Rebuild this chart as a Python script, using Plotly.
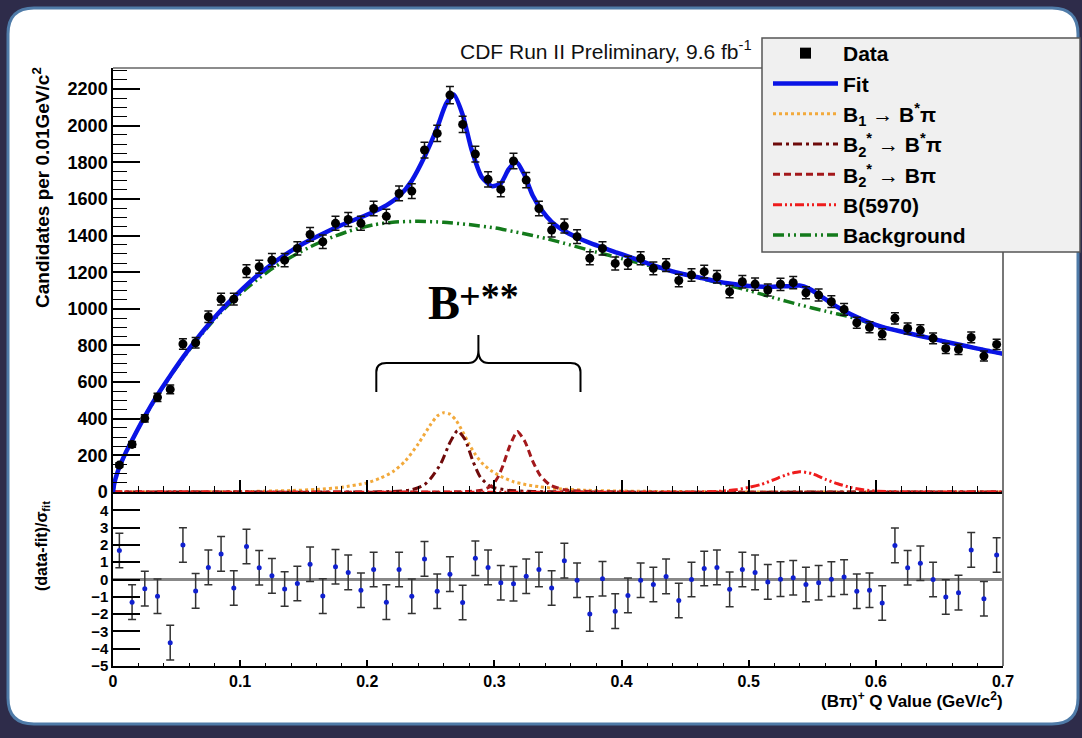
import numpy as np
import plotly.graph_objects as go

# ---------------- data ----------------
bin_width = 0.01
counts = [147, 260, 402, 517, 560, 808, 815, 957, 1053, 1053,
          1206, 1230, 1266, 1266, 1330, 1406, 1366, 1467, 1488, 1467,
          1548, 1505, 1630, 1643, 1867, 1958, 2167, 2007, 1845, 1707,
          1652, 1807, 1703, 1548, 1430, 1452, 1394, 1276, 1330, 1248,
          1252, 1276, 1221, 1239, 1155, 1185, 1203, 1175, 1094, 1148,
          1135, 1103, 1134, 1143, 1088, 1075, 1039, 997, 924, 899,
          862, 948, 893, 884, 839, 784, 779, 844, 742, 806]
pulls = [1.68, -1.31, -0.53, -0.97, -3.65, 1.99, -0.66, 0.70, 1.48, -0.49,
         1.91, 0.68, 0.21, -0.55, -0.23, 0.88, -0.96, 0.74, 0.41, -0.62,
         0.58, -1.31, 0.58, -0.97, 1.19, -0.68, 0.31, -1.33, 1.23, 0.70,
         -0.19, -0.25, 0.19, 0.58, -0.49, 1.09, -0.04, -1.99, 0.04, -1.83,
         -0.92, -0.04, -0.29, 0.18, -1.21, 0.00, 0.64, 0.70, -0.57, 0.58,
         0.41, -0.14, 0.02, 0.10, -0.29, -0.19, 0.02, 0.14, -0.68, -0.62,
         -1.36, 1.97, 0.68, 0.94, 0.00, -1.01, -0.76, 1.71, -1.11, 1.42]

fit_x = [0, 0.001, 0.003, 0.005, 0.01, 0.015, 0.025, 0.035, 0.045, 0.055,
         0.065, 0.075, 0.085, 0.095, 0.105, 0.115, 0.125, 0.135, 0.145, 0.155,
         0.165, 0.175, 0.185, 0.195, 0.205, 0.215, 0.225, 0.235, 0.245, 0.255,
         0.262, 0.268, 0.275, 0.282, 0.29, 0.298, 0.305, 0.311, 0.317, 0.323,
         0.33, 0.337, 0.345, 0.355, 0.365, 0.375, 0.385, 0.395, 0.405, 0.415,
         0.425, 0.435, 0.445, 0.455, 0.465, 0.475, 0.485, 0.5, 0.515, 0.53,
         0.54, 0.547, 0.555, 0.565, 0.575, 0.585, 0.595, 0.605, 0.62, 0.635,
         0.65, 0.665, 0.68, 0.69, 0.7]
fit_y = [0, 46, 96, 135, 215, 283, 413, 530, 635, 735,
         828, 913, 992, 1063, 1130, 1190, 1245, 1293, 1338, 1376,
         1410, 1443, 1473, 1500, 1530, 1565, 1615, 1700, 1830, 1990,
         2120, 2170, 2060, 1870, 1720, 1670, 1685, 1760, 1805, 1740,
         1620, 1540, 1475, 1425, 1390, 1360, 1335, 1310, 1287, 1262,
         1238, 1216, 1196, 1180, 1165, 1150, 1138, 1125, 1120, 1124,
         1127, 1112, 1078, 1030, 990, 955, 925, 902, 876, 852,
         828, 805, 783, 768, 755]

bkg_x = [0, 0.001, 0.003, 0.005, 0.01, 0.015, 0.025, 0.035, 0.045, 0.055,
         0.065, 0.075, 0.085, 0.095, 0.105, 0.115, 0.125, 0.135, 0.145, 0.155,
         0.165, 0.175, 0.185, 0.195, 0.205, 0.22, 0.24, 0.26, 0.28, 0.30,
         0.32, 0.34, 0.36, 0.38, 0.40, 0.42, 0.44, 0.46, 0.48, 0.50,
         0.52, 0.54, 0.56, 0.58, 0.60, 0.62, 0.64, 0.66, 0.68, 0.70]
bkg_y = [0, 46, 96, 135, 215, 283, 412, 528, 632, 730,
         822, 905, 982, 1050, 1112, 1168, 1218, 1262, 1302, 1338,
         1370, 1398, 1423, 1443, 1459, 1473, 1478, 1473, 1460, 1442,
         1415, 1385, 1348, 1310, 1275, 1240, 1205, 1170, 1135, 1100,
         1060, 1022, 988, 955, 912, 876, 844, 813, 783, 755]

b1_x = [0, 0.10, 0.14, 0.16, 0.18, 0.20, 0.21, 0.22, 0.23, 0.24,
        0.25, 0.255, 0.26, 0.265, 0.27, 0.275, 0.28, 0.285, 0.29, 0.297,
        0.305, 0.315, 0.325, 0.335, 0.35, 0.37, 0.40, 0.45, 0.50, 0.70]
b1_y = [0, 2, 8, 14, 26, 50, 75, 110, 170, 262,
        370, 415, 433, 425, 390, 330, 262, 205, 160, 118,
        85, 56, 40, 29, 18, 10, 5, 2, 0, 0]

b2s_x = [0, 0.20, 0.22, 0.235, 0.245, 0.25, 0.258, 0.265, 0.271, 0.277,
         0.283, 0.289, 0.297, 0.31, 0.33, 0.36, 0.70]
b2s_y = [0, 0, 3, 12, 40, 75, 157, 270, 335, 285,
         170, 80, 30, 10, 3, 0, 0]

b2_x = [0, 0.26, 0.28, 0.29, 0.298, 0.303, 0.307, 0.312, 0.318, 0.324,
        0.330, 0.336, 0.344, 0.355, 0.37, 0.39, 0.70]
b2_y = [0, 0, 3, 10, 35, 84, 150, 250, 330, 275,
        170, 90, 37, 12, 4, 0, 0]

b5_x = [0, 0.46, 0.48, 0.49, 0.50, 0.51, 0.52, 0.53, 0.54, 0.55,
        0.56, 0.57, 0.58, 0.59, 0.60, 0.62, 0.70]
b5_y = [0, 0, 5, 12, 25, 42, 68, 95, 111, 100,
        70, 45, 25, 12, 5, 0, 0]

x_ticks = [0, 0.1, 0.2, 0.3, 0.4, 0.5, 0.6, 0.7]
pull_ticks = [-5, -4, -3, -2, -1, 0, 1, 2, 3, 4]

# ---------------- geometry helpers ----------------
W, H = 1082, 738
ML, MR, MT, MB = 113, 79, 68, 72
PW, PH = W - ML - MR, H - MT - MB


def px(x):
    return (x - ML) / PW


def py(y):
    return (H - MB - y) / PH


centers = np.arange(len(counts)) * bin_width + bin_width / 2
errs = np.sqrt(np.array(counts, dtype=float))
pull_err = np.ones(len(pulls))

FONT = "Liberation Sans"

fig = go.Figure()

comp_style = [
    ("B<sub>1</sub> \u2192 B<sup>*</sup>\u03c0", b1_x, b1_y, "#f2a93b", "dot", 3),
    ("B<sub>2</sub><sup>*</sup> \u2192 B<sup>*</sup>\u03c0", b2s_x, b2s_y, "#6e0a0a", "9px,4px,3px,4px", 3),
    ("B<sub>2</sub><sup>*</sup> \u2192 B\u03c0", b2_x, b2_y, "#a3181b", "7px,4px", 3),
    ("B(5970)", b5_x, b5_y, "#ee1c1c", "9px,3px,2px,3px,2px,3px", 3),
]
rank = 3
for name, xs, ys, col, dash, w in comp_style:
    fig.add_trace(go.Scatter(x=xs, y=ys, mode="lines", name=name,
                             line=dict(color=col, dash=dash, width=w, shape="spline", smoothing=0.6),
                             xaxis="x", yaxis="y", legendrank=rank, hoverinfo="skip"))
    rank += 1

fig.add_trace(go.Scatter(x=bkg_x, y=bkg_y, mode="lines", name="Background",
                         line=dict(color="#137a1b", dash="11px,4px,2px,4px,2px,4px", width=3.5,
                                   shape="spline", smoothing=0.6),
                         xaxis="x", yaxis="y", legendrank=7))
fig.add_trace(go.Scatter(x=fit_x, y=fit_y, mode="lines", name="Fit",
                         line=dict(color="#0a14e6", width=4.5, shape="spline", smoothing=0.6),
                         xaxis="x", yaxis="y", legendrank=2))
fig.add_trace(go.Scatter(x=centers, y=counts, mode="markers", name="Data", showlegend=False,
                         marker=dict(color="black", size=9),
                         error_y=dict(type="data", array=errs, color="#111", thickness=1.5, width=4),
                         xaxis="x", yaxis="y"))
fig.add_trace(go.Scatter(x=[None], y=[None], mode="markers", name="Data",
                         marker=dict(color="black", size=11, symbol="square"),
                         xaxis="x", yaxis="y", legendrank=1))

fig.add_trace(go.Scatter(x=centers, y=pulls, mode="markers", showlegend=False,
                         marker=dict(color="#1020d0", size=5),
                         error_y=dict(type="data", array=pull_err, color="#333", thickness=1.5, width=4),
                         xaxis="x2", yaxis="y2"))

top_dom = [py(492), 1]
bot_dom = [0, py(493)]

axis_common = dict(showgrid=False, zeroline=False, showline=True, linecolor="black",
                   linewidth=1.5, tickcolor="black", tickwidth=1.5, ticks="inside")

fig.update_layout(
    width=W, height=H,
    margin=dict(l=ML, r=MR, t=MT, b=MB, pad=0),
    paper_bgcolor="#2e2c4a",
    plot_bgcolor="rgba(0,0,0,0)",
    showlegend=True,
    xaxis=dict(domain=[0, 1], range=[0, 0.7], anchor="y", tickvals=x_ticks, ticklen=12,
               showticklabels=False,
               minor=dict(dtick=0.02, tick0=0, ticklen=6, ticks="inside", tickcolor="black", tickwidth=1.2),
               **axis_common),
    yaxis=dict(domain=top_dom, range=[0, 2315], anchor="x", dtick=200, tick0=0, ticklen=27,
               tickfont=dict(family=FONT, size=18, color="black", weight="bold"),
               minor=dict(dtick=50, tick0=0, ticklen=14, ticks="inside", tickcolor="black", tickwidth=1.2),
               **axis_common),
    xaxis2=dict(domain=[0, 1], range=[0, 0.7], anchor="y2", tickvals=x_ticks, ticklen=6,
                ticktext=["0", "0.1", "0.2", "0.3", "0.4", "0.5", "0.6", "0.7"],
                tickfont=dict(family=FONT, size=16, color="black", weight="bold"),
                minor=dict(dtick=0.02, tick0=0, ticklen=3, ticks="inside", tickcolor="black", tickwidth=1.2),
                **axis_common),
    yaxis2=dict(domain=bot_dom, range=[-5, 5], anchor="x2", tickvals=pull_ticks, ticklen=27,
                tickfont=dict(family=FONT, size=15, color="black", weight="bold"),
                showgrid=False, zeroline=True, zerolinecolor="#888", zerolinewidth=2.5,
                showline=True, linecolor="black", linewidth=1.5, tickcolor="black", tickwidth=1.5,
                ticks="inside"),
    legend=dict(x=px(768), y=py(33), xanchor="left", yanchor="top",
                bgcolor="rgba(0,0,0,0)", borderwidth=0, itemwidth=65,
                font=dict(family=FONT, size=21, color="black", weight="bold"),
                tracegroupgap=0),
)

# ---------------- decorations ----------------
x0, x1 = px(8), px(1078)
y0, y1 = py(724), py(8)
rx, ry = 26 / PW, 26 / PH
panel = (f"M {x0+rx},{y1} L {x1-rx},{y1} Q {x1},{y1} {x1},{y1-ry} L {x1},{y0+ry} "
         f"Q {x1},{y0} {x1-rx},{y0} L {x0+rx},{y0} Q {x0},{y0} {x0},{y0+ry} "
         f"L {x0},{y1-ry} Q {x0},{y1} {x0+rx},{y1} Z")
shapes = [
    dict(type="path", path=panel, xref="paper", yref="paper", layer="below",
         fillcolor="white", line=dict(color="#4f7ba8", width=3)),
    # frame top and right (grey)
    dict(type="line", xref="paper", yref="paper", x0=0, x1=px(762), y0=1, y1=1,
         line=dict(color="#666", width=1.5), layer="above"),
    dict(type="line", xref="paper", yref="paper", x0=1, x1=1, y0=0, y1=py(252),
         line=dict(color="#777", width=2), layer="above"),
    # legend box
    dict(type="rect", xref="paper", yref="paper", x0=px(762), x1=px(1080), y0=py(252), y1=py(38),
         fillcolor="#f0f0f0", line=dict(color="#555", width=1.5), layer="above"),
]

# brace (in data units of the upper panel)
bx0, bxc, bx1 = 0.2071, 0.2874, 0.3677
bdx = 0.0079
by_end, by_mid, by_line, by_knee, by_tip = 546, 655, 704, 775, 857
brace = (f"M {bx0},{by_end} L {bx0},{by_mid} Q {bx0},{by_line} {bx0+bdx},{by_line} "
         f"L {bxc-bdx},{by_line} Q {bxc},{by_line} {bxc},{by_knee} L {bxc},{by_tip} "
         f"M {bxc},{by_knee} Q {bxc},{by_line} {bxc+bdx},{by_line} "
         f"L {bx1-bdx},{by_line} Q {bx1},{by_line} {bx1},{by_mid} L {bx1},{by_end}")
shapes.append(dict(type="path", path=brace, xref="x", yref="y", layer="above",
                   line=dict(color="black", width=2)))
fig.update_layout(shapes=shapes)

annotations = [
    dict(text="CDF Run II Preliminary, 9.6 fb<sup>-1</sup>", x=px(754), y=py(50),
         xanchor="right", yanchor="middle", font=dict(family=FONT, size=21, color="#111")),
    dict(text="Candidates per 0.01GeV/c<sup>2</sup>", x=px(41), y=py(188), textangle=-90,
         xanchor="center", yanchor="middle", font=dict(family=FONT, size=19, color="black", weight="bold")),
    dict(text="(data-fit)/\u03c3<sub>fit</sub>", x=px(42), y=py(546), textangle=-90,
         xanchor="center", yanchor="middle", font=dict(family=FONT, size=16, color="black", weight="bold")),
    dict(text="(B\u03c0)<sup>+</sup> Q Value (GeV/c<sup>2</sup>)", x=px(1005), y=py(700),
         xanchor="right", yanchor="middle", font=dict(family=FONT, size=17, color="black", weight="bold")),
    dict(text="B", x=px(444), y=py(302), xanchor="center", yanchor="middle",
         font=dict(family="Liberation Serif", size=48, color="black", weight="bold")),
    dict(text="+**", x=px(457), y=py(296), xanchor="left", yanchor="middle",
         font=dict(family="Liberation Serif", size=38, color="black", weight="bold")),
]
for a in annotations:
    a.update(xref="paper", yref="paper", showarrow=False)
fig.update_layout(annotations=annotations)

fig.write_html("out.html")
